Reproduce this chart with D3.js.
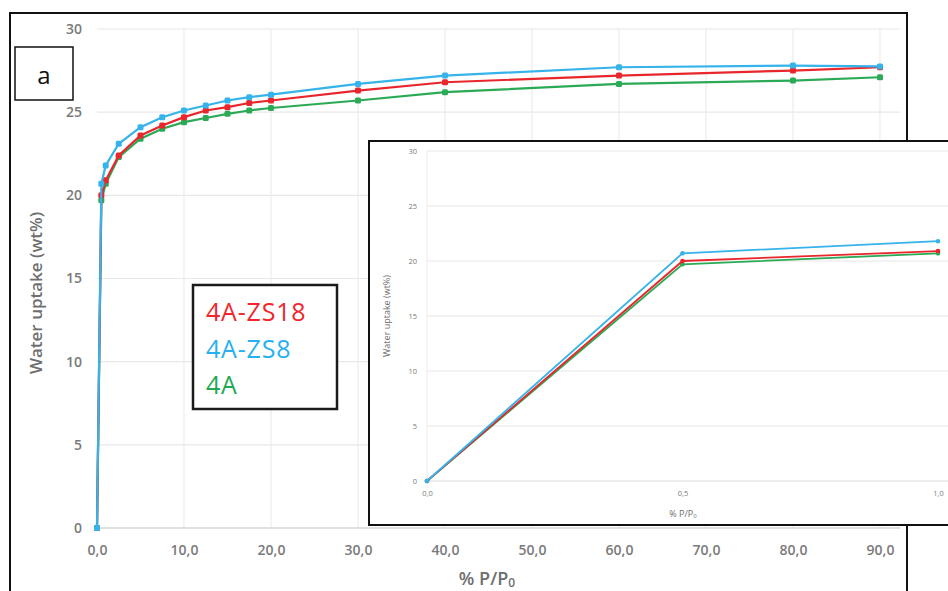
<!DOCTYPE html>
<html>
<head>
<meta charset="utf-8">
<script src="https://cdn.jsdelivr.net/npm/d3@7/dist/d3.min.js"></script>
<style>
  html, body { margin: 0; padding: 0; background: #ffffff; }
  svg { display: block; }
  text { font-family: "Open Sans", "DejaVu Sans", sans-serif; }
</style>
</head>
<body>
<svg id="chart" width="948" height="591"></svg>
<script>
// Relative pressure (% P/P0) at each measurement
const pressure = [0, 0.5, 1, 2.5, 5, 7.5, 10, 12.5, 15, 17.5, 20, 30, 40, 60, 80, 90];
// Water uptake (wt%) for each sample
const uptakeZS18 = [0, 20.0, 20.9, 22.4, 23.6, 24.2, 24.7, 25.1, 25.3, 25.55, 25.7, 26.3, 26.8, 27.2, 27.5, 27.7];
const uptakeZS8  = [0, 20.7, 21.8, 23.1, 24.1, 24.7, 25.1, 25.4, 25.7, 25.9, 26.05, 26.7, 27.2, 27.7, 27.8, 27.75];
const uptake4A   = [0, 19.7, 20.7, 22.3, 23.4, 24.0, 24.4, 24.65, 24.9, 25.1, 25.25, 25.7, 26.2, 26.7, 26.9, 27.1];

const seriesNames = ["4A", "4A-ZS18", "4A-ZS8"];
const seriesColors = ["#2aaa55", "#e8262c", "#35b3ea"];
const seriesValues = [uptake4A, uptakeZS18, uptakeZS8];

const mainXTicks = [0, 10, 20, 30, 40, 50, 60, 70, 80, 90];
const mainYTicks = [0, 5, 10, 15, 20, 25, 30];
const insetXTicks = [0, 0.5, 1.0];
const insetYTicks = [0, 5, 10, 15, 20, 25, 30];
const insetMaxP = 1.0;

// legend order, top to bottom
const legendNames = ["4A-ZS18", "4A-ZS8", "4A"];
const legendColors = ["#f0262c", "#27b0ef", "#22a852"];

const fmt = d => d3.format(".1f")(d).replace(".", ",");

const svg = d3.select("#chart");

// outer frame of panel a
svg.append("rect").attr("x", 10).attr("y", 13).attr("width", 897).attr("height", 600)
  .attr("fill", "#ffffff").attr("stroke", "#111").attr("stroke-width", 2);

// ---------- main plot ----------
const x = d3.scaleLinear().domain([0, 90]).range([97, 880]);
const y = d3.scaleLinear().domain([0, 30]).range([528, 29]);

const main = svg.append("g");

// gridlines
main.append("g").selectAll("line").data(mainYTicks.filter(d => d > 0)).join("line")
  .attr("x1", x(0)).attr("x2", 900).attr("y1", d => y(d)).attr("y2", d => y(d))
  .attr("stroke", "#e8e8e8").attr("stroke-width", 1.2);
main.append("g").selectAll("line").data(mainXTicks.filter(d => d > 0)).join("line")
  .attr("x1", d => x(d)).attr("x2", d => x(d)).attr("y1", y(30)).attr("y2", y(0))
  .attr("stroke", "#ececec").attr("stroke-width", 1.2);
// baseline
main.append("line").attr("x1", x(0)).attr("x2", 900).attr("y1", y(0)).attr("y2", y(0))
  .attr("stroke", "#d6d6d6").attr("stroke-width", 1.5);

// y axis labels
const yAxis = d3.axisLeft(y).tickValues(mainYTicks).tickSize(0).tickPadding(15);
const gy = main.append("g").attr("transform", `translate(${x(0)},0)`).call(yAxis);
gy.select(".domain").remove();
gy.selectAll("text").attr("font-size", 14).attr("font-weight", 600).attr("fill", "#7a7a7a")
  .style("font-family", "'Open Sans', sans-serif");

// x axis labels
const xAxis = d3.axisBottom(x).tickValues(mainXTicks).tickFormat(fmt).tickSize(0).tickPadding(17);
const gx = main.append("g").attr("transform", `translate(0,${y(0)})`).call(xAxis);
gx.select(".domain").remove();
gx.selectAll("text").attr("font-size", 14).attr("font-weight", 600).attr("fill", "#7a7a7a")
  .style("font-family", "'Open Sans', sans-serif");

// axis titles
const xt = main.append("text").attr("x", 487).attr("y", 585).attr("text-anchor", "middle")
  .attr("font-size", 18).attr("font-weight", 600).attr("fill", "#6e6e6e");
xt.append("tspan").text("% P/P");
xt.append("tspan").attr("font-size", 12).attr("dy", 2).text("0");

main.append("text").attr("transform", "translate(42,293) rotate(-90)").attr("text-anchor", "middle")
  .attr("font-size", 17).attr("font-weight", 600).attr("fill", "#6e6e6e")
  .text("Water uptake (wt%)");

// series lines and markers
const line = d3.line().x((d, i) => x(pressure[i])).y(d => y(d));
seriesValues.forEach((vals, k) => {
  main.append("path").datum(vals).attr("d", line).attr("fill", "none")
    .attr("stroke", seriesColors[k]).attr("stroke-width", 2.2);
  main.append("g").selectAll("rect").data(vals).join("rect")
    .attr("x", (d, i) => x(pressure[i]) - 3).attr("y", d => y(d) - 3)
    .attr("width", 6).attr("height", 6).attr("rx", 1.5)
    .attr("fill", seriesColors[k]);
});

// panel label
svg.append("rect").attr("x", 15).attr("y", 47).attr("width", 58).attr("height", 53)
  .attr("fill", "#fff").attr("stroke", "#111").attr("stroke-width", 1.5);
svg.append("text").attr("x", 44).attr("y", 84).attr("text-anchor", "middle")
  .attr("font-size", 24).attr("fill", "#111").text("a");

// legend
const lg = svg.append("g");
lg.append("rect").attr("x", 193).attr("y", 285).attr("width", 144).attr("height", 124)
  .attr("fill", "#fff").attr("stroke", "#1a1a1a").attr("stroke-width", 2.5);
lg.selectAll("text").data(legendNames).join("text")
  .attr("x", 206).attr("y", (d, i) => 321 + i * 36.5)
  .attr("font-size", 25).attr("letter-spacing", 0.8).attr("fill", (d, i) => legendColors[i])
  .text(d => d);

// ---------- inset ----------
const inset = svg.append("g");
inset.append("rect").attr("x", 369).attr("y", 141).attr("width", 640).attr("height", 384)
  .attr("fill", "#fff").attr("stroke", "#111").attr("stroke-width", 2);

const xi = d3.scaleLinear().domain([0, insetMaxP]).range([427, 938]);
const yi = d3.scaleLinear().domain([0, 30]).range([481, 151]);

inset.append("g").selectAll("line").data(insetYTicks.filter(d => d > 0)).join("line")
  .attr("x1", xi(0)).attr("x2", 960).attr("y1", d => yi(d)).attr("y2", d => yi(d))
  .attr("stroke", "#e6e6e6").attr("stroke-width", 1);
inset.append("line").attr("x1", xi(0)).attr("x2", xi(0)).attr("y1", yi(30)).attr("y2", yi(0))
  .attr("stroke", "#ececec").attr("stroke-width", 1);
inset.append("line").attr("x1", xi(0)).attr("x2", 960).attr("y1", yi(0)).attr("y2", yi(0))
  .attr("stroke", "#dcdcdc").attr("stroke-width", 1.2);

const yiAxis = d3.axisLeft(yi).tickValues(insetYTicks).tickSize(0).tickPadding(10);
const giy = inset.append("g").attr("transform", `translate(${xi(0)},0)`).call(yiAxis);
giy.select(".domain").remove();
giy.selectAll("text").attr("font-size", 7.5).attr("fill", "#7a7a7a")
  .style("font-family", "'Open Sans', sans-serif");

const xiAxis = d3.axisBottom(xi).tickValues(insetXTicks).tickFormat(fmt).tickSize(0).tickPadding(10);
const gix = inset.append("g").attr("transform", `translate(0,${yi(0)})`).call(xiAxis);
gix.select(".domain").remove();
gix.selectAll("text").attr("font-size", 7.5).attr("fill", "#7a7a7a")
  .style("font-family", "'Open Sans', sans-serif");

const xit = inset.append("text").attr("x", 683).attr("y", 517).attr("text-anchor", "middle")
  .attr("font-size", 9).attr("fill", "#6e6e6e");
xit.append("tspan").text("% P/P");
xit.append("tspan").attr("font-size", 6).attr("dy", 1).text("0");

inset.append("text").attr("transform", "translate(390,316) rotate(-90)").attr("text-anchor", "middle")
  .attr("font-size", 9).attr("fill", "#6e6e6e").text("Water uptake (wt%)");

const nInset = pressure.filter(p => p <= insetMaxP).length;
const lineI = d3.line().x((d, i) => xi(pressure[i])).y(d => yi(d));
seriesValues.forEach((vals, k) => {
  const sub = vals.slice(0, nInset);
  inset.append("path").datum(sub).attr("d", lineI).attr("fill", "none")
    .attr("stroke", seriesColors[k]).attr("stroke-width", 1.8);
  inset.append("g").selectAll("circle").data(sub).join("circle")
    .attr("cx", (d, i) => xi(pressure[i])).attr("cy", d => yi(d)).attr("r", 2.3)
    .attr("fill", seriesColors[k]);
});
</script>
</body>
</html>
